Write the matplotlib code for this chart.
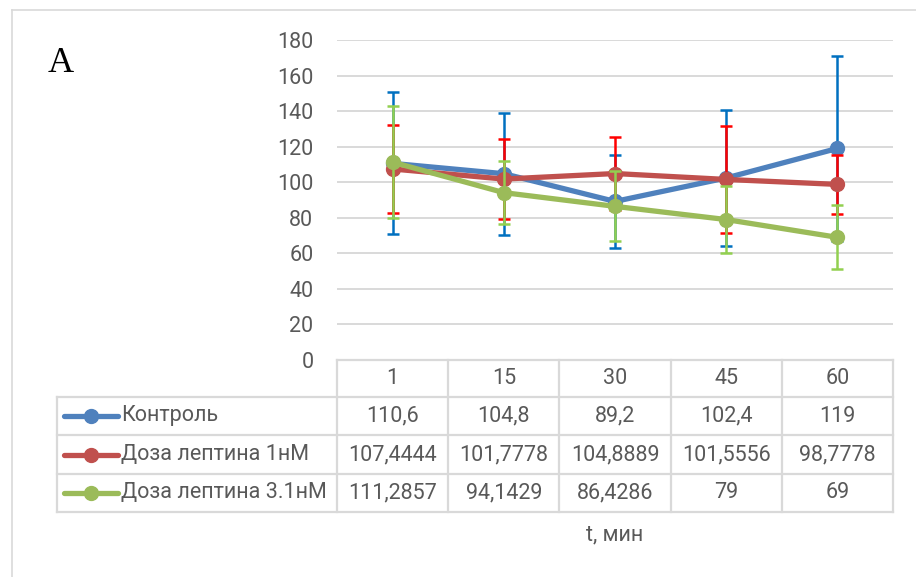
import matplotlib
matplotlib.use('Agg')
import matplotlib.pyplot as plt

# ---------------- data ----------------
times = ['1', '15', '30', '45', '60']
series_names = ['Контроль', 'Доза лептина 1нМ', 'Доза лептина 3.1нМ']
control = [110.6, 104.8, 89.2, 102.4, 119]
leptin_1nm = [107.4444, 101.7778, 104.8889, 101.5556, 98.7778]
leptin_31nm = [111.2857, 94.1429, 86.4286, 79, 69]
control_err = [40.0, 34.3, 26.2, 38.4, 52.0]
leptin_1nm_err = [24.6, 22.3, 20.6, 30.0, 16.8]
leptin_31nm_err = [31.4, 17.7, 19.7, 19.0, 18.0]
y_ticks = [0, 20, 40, 60, 80, 100, 120, 140, 160, 180]
x_title = 't, мин'
panel_label = 'A'

line_colors = ['#4F81BD', '#C0504D', '#9BBB59']
err_colors = ['#0070C0', '#FF0000', '#92D050']
values = [control, leptin_1nm, leptin_31nm]
errors = [control_err, leptin_1nm_err, leptin_31nm_err]

FONT = ['Roboto', 'DejaVu Sans']
plt.rcParams['font.family'] = FONT
TXT = '#595959'
GRID = '#D9D9D9'
FS = 15.5

W, H = 916, 577
fig = plt.figure(figsize=(W / 100, H / 100), dpi=100)

# plot area in pixel geometry
PL, PR, PT, PB = 337, 893, 40, 360
ax = fig.add_axes([PL / W, (H - PB) / H, (PR - PL) / W, (PB - PT) / H])
ax.set_xlim(-0.5, len(times) - 0.5)
ax.set_ylim(y_ticks[0], y_ticks[-1])
ax.set_yticks(y_ticks)
ax.set_xticks([])
for s in ax.spines.values():
    s.set_visible(False)
ax.yaxis.grid(True, color=GRID, lw=1.4)
ax.set_axisbelow(True)
ax.tick_params(axis='y', length=0, pad=17, labelsize=FS, labelcolor=TXT)
ax.patch.set_alpha(0)

xs = list(range(len(times)))
for i, (v, e) in enumerate(zip(values, errors)):
    ax.errorbar(xs, v, yerr=e, fmt='none', ecolor=err_colors[i], elinewidth=1.8,
                capsize=4.5, capthick=1.8, zorder=3 + 2 * i)
    ax.plot(xs, v, color=line_colors[i], lw=3.8, marker='o', markersize=10,
            zorder=4 + 2 * i, solid_capstyle='round')

# ---------------- overlay: frame + data table ----------------
ov = fig.add_axes([0, 0, 1, 1], zorder=-1)
ov.set_xlim(0, W)
ov.set_ylim(H, 0)
ov.axis('off')

# outer chart frame
ov.plot([12, W], [10, 10], color=GRID, lw=1.2)
ov.plot([12, 12], [10, H], color=GRID, lw=1.2)

TL = 57
col_edges = [PL + k * (PR - PL) / len(times) for k in range(len(times) + 1)]
row_edges = [360, 397, 435, 474, 512]
lw_t = 1.6
for xe in col_edges:
    ov.plot([xe, xe], [row_edges[0], row_edges[-1]], color=GRID, lw=lw_t)
ov.plot([TL, TL], [row_edges[1], row_edges[-1]], color=GRID, lw=lw_t)
ov.plot([PL, PR], [row_edges[0], row_edges[0]], color=GRID, lw=lw_t)
for ye in row_edges[1:]:
    ov.plot([TL, PR], [ye, ye], color=GRID, lw=lw_t)

col_centers = [(col_edges[k] + col_edges[k + 1]) / 2 for k in range(len(times))]
yh = (row_edges[0] + row_edges[1]) / 2
for cx, t in zip(col_centers, times):
    ov.text(cx, yh, t, ha='center', va='center', fontsize=FS, color=TXT)


def fmt(v):
    s = ('%.4f' % v).rstrip('0').rstrip('.')
    return s.replace('.', ',')


for r, (name, v) in enumerate(zip(series_names, values)):
    yc = (row_edges[r + 1] + row_edges[r + 2]) / 2
    ov.plot([64, 118], [yc, yc], color=line_colors[r], lw=3.8, solid_capstyle='round')
    ov.plot([91], [yc], 'o', color=line_colors[r], markersize=10)
    ov.text(121, yc, name, ha='left', va='center', fontsize=FS, color=TXT)
    for cx, val in zip(col_centers, v):
        ov.text(cx, yc, fmt(val), ha='center', va='center', fontsize=FS, color=TXT)

ov.text(615, 535, x_title, ha='center', va='center', fontsize=FS, color=TXT)
ov.text(61, 63, panel_label, ha='center', va='center', fontsize=26, color='black',
        family=['Liberation Serif', 'DejaVu Serif'])

fig.savefig('out.png', dpi=100, facecolor='white')
